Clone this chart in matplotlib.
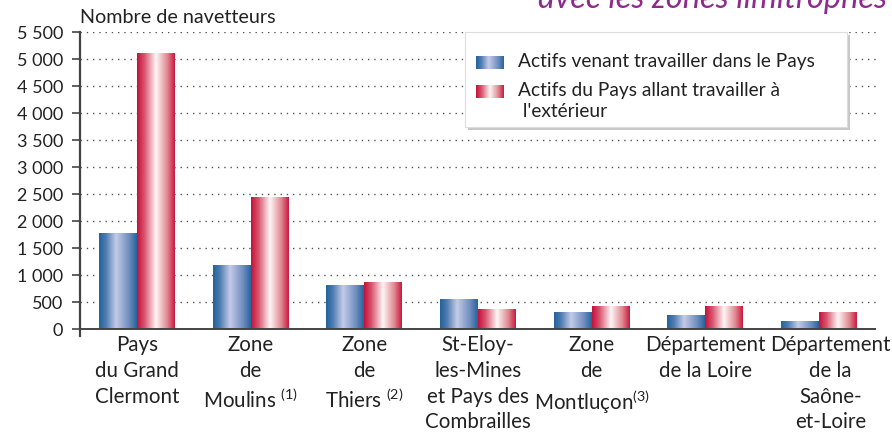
import matplotlib
matplotlib.use("Agg")
import matplotlib.pyplot as plt
import numpy as np
from matplotlib.colors import LinearSegmentedColormap
from matplotlib.patches import Rectangle

plt.rcParams['font.family'] = ['Lato', 'DejaVu Sans']
plt.rcParams['mathtext.fontset'] = 'custom'
plt.rcParams['mathtext.rm'] = 'Lato'
plt.rcParams['mathtext.it'] = 'Lato:italic'

categories = ["Pays\ndu Grand\nClermont",
              "Zone\nde\nMoulins $^{(1)}$",
              "Zone\nde\nThiers $^{(2)}$",
              "St-Eloy-\nles-Mines\net Pays des\nCombrailles",
              "Zone\nde\nMontluçon$^{(3)}$",
              "Département\nde la Loire",
              "Département\nde la\nSaône-\net-Loire"]
entrants = [1760, 1170, 800, 540, 300, 245, 130]
sortants = [5100, 2430, 855, 355, 410, 410, 300]
series_names = ["Actifs venant travailler dans le Pays",
                "Actifs du Pays allant travailler à\n l'extérieur"]
yticks = [0, 500, 1000, 1500, 2000, 2500, 3000, 3500, 4000, 4500, 5000, 5500]

W, H = 892, 435
fig = plt.figure(figsize=(W / 100, H / 100), dpi=100)

def fx(x):
    return x / W

def fy(y):
    return 1 - y / H

ax = fig.add_axes([fx(80), fy(337), fx(876) - fx(80), fy(33) - fy(337)])

blue_cmap = LinearSegmentedColormap.from_list(
    "b", [(0, "#22629b"), (0.18, "#4d7cb0"), (0.45, "#c4cbe8"), (0.8, "#6d8cbe"), (1, "#25649c")])
red_cmap = LinearSegmentedColormap.from_list(
    "r", [(0, "#c4103c"), (0.2, "#d9566f"), (0.5, "#fff6f6"), (0.8, "#df8890"), (1, "#c81840")])
grad = np.linspace(0, 1, 256).reshape(1, -1)

x = np.arange(len(categories))
bw = 0.334
b1 = ax.bar(x - bw / 2, entrants, bw, color="none", zorder=2)
b2 = ax.bar(x + bw / 2, sortants, bw, color="none", zorder=2)
for bars, cm in ((b1, blue_cmap), (b2, red_cmap)):
    for r in bars:
        x0, y0 = r.get_x(), r.get_y()
        ax.imshow(grad, cmap=cm, extent=(x0, x0 + r.get_width(), y0, y0 + r.get_height()),
                  aspect="auto", zorder=2, interpolation="bilinear")

ax.set_xlim(-0.5, len(categories) - 0.5)
ax.set_ylim(-130, 5500)
ax.set_yticks(yticks)
ax.set_yticklabels([f"{v:,}".replace(",", " ") for v in yticks], fontsize=13, color="#222222")
ax.set_xticks([])
for s in ("top", "right", "bottom"):
    ax.spines[s].set_visible(False)
ax.spines["left"].set_color("#444444")
ax.spines["left"].set_linewidth(1.6)
ax.tick_params(axis="y", length=6, width=1.2, color="#444444", pad=6)
for v in yticks[1:]:
    ax.axhline(v, color="#555555", lw=1.0, ls=(0, (1, 3.5)), zorder=1)
ax.axhline(0, color="#444444", lw=1.4, zorder=3)

label_shift = [0, 0, 0, 0, 0, 0, 8]  # points, to keep the last label clear of its neighbour
for i, c in enumerate(categories):
    ax.annotate(c, xy=(x[i], -95), xytext=(label_shift[i], 0), textcoords="offset points",
                ha="center", va="top", fontsize=14.8, color="#222222", linespacing=1.36)

fig.text(fx(80), fy(23), "Nombre de navetteurs", fontsize=14.2, color="#222222", va="baseline")
fig.text(fx(887), fy(8), "avec les zones limitrophes", fontsize=23.5, color="#8e2a8e",
         style="italic", ha="right", va="baseline")

# legend
shadow = Rectangle((fx(468), fy(131)), fx(847) - fx(465), fy(33) - fy(128),
                   transform=fig.transFigure, facecolor="#c8c8c8", edgecolor="none", zorder=4)
box = Rectangle((fx(465), fy(128)), fx(847) - fx(465), fy(33) - fy(128),
                transform=fig.transFigure, facecolor="white", edgecolor="#dddddd", lw=0.8, zorder=5)
fig.add_artist(shadow)
fig.add_artist(box)
for (yt, yb), cm, name, ty in (((57, 70), blue_cmap, series_names[0], 53),
                               ((86, 99), red_cmap, series_names[1], 82)):
    sw = fig.add_axes([fx(476), fy(yb), fx(504) - fx(476), fy(yt) - fy(yb)], zorder=6)
    sw.imshow(grad, cmap=cm, aspect="auto", interpolation="bilinear")
    sw.axis("off")
    fig.text(fx(518), fy(ty), name, fontsize=13.8, color="#222222", va="top",
             linespacing=1.3, zorder=7)

fig.savefig("out.png", dpi=100)
